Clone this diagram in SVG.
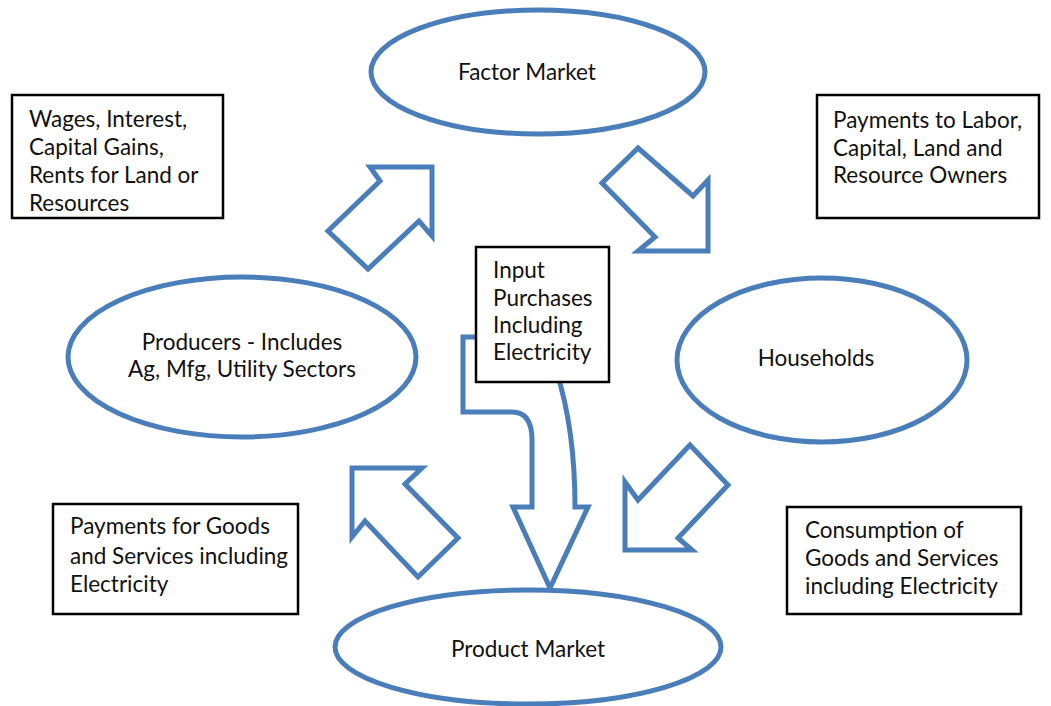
<svg xmlns="http://www.w3.org/2000/svg" width="1051" height="706" viewBox="0 0 1051 706">
  <style>
    .ell { fill: #ffffff; stroke: #4A7EBB; stroke-width: 5; }
    .arr { fill: #ffffff; stroke: #4A7EBB; stroke-width: 5; stroke-linejoin: miter; }
    .box { fill: #ffffff; stroke: #000000; stroke-width: 2.5; }
    .t { font-family: Lato, "Open Sans", sans-serif; font-size: 22.5px; fill: #111111; }
    .c { text-anchor: middle; }
  </style>
  <rect width="1051" height="706" fill="#ffffff"/>

  <g id="connectors">
    <polygon class="arr" points="370,167 432,167 432,236 419,221 368,269 328,231 380,181"/>
    <polygon class="arr" points="638,148 602,183 655,237 638,251 708,251 708,180 693,196"/>
    <polygon class="arr" points="352,468 422,468 405,484 458,538 418,577 365,521 352,537"/>
    <polygon class="arr" points="690,445 728,485 678,538 692,550 625,550 625,482 638,500"/>
    <path class="arr" d="M 490,337 L 463,337 L 463,412 L 512,412 Q 532,412 532,440 L 532,507 L 513,507 L 550,588 L 588,507 L 575,507 C 575,460 569,410 556,370 L 540,340 Z"/>
  </g>

  <g id="factor-market">
    <ellipse class="ell" cx="538" cy="72" rx="167" ry="62"/>
    <text class="t c" x="527" y="80">Factor Market</text>
  </g>

  <g id="producers">
    <ellipse class="ell" cx="242" cy="357" rx="174" ry="80"/>
    <text class="t c" x="242" y="350">Producers - Includes</text>
    <text class="t c" x="242" y="377">Ag, Mfg, Utility Sectors</text>
  </g>

  <g id="households">
    <ellipse class="ell" cx="822" cy="360" rx="145" ry="82"/>
    <text class="t c" x="816" y="366">Households</text>
  </g>

  <g id="product-market">
    <ellipse class="ell" cx="528" cy="647" rx="193" ry="57"/>
    <text class="t c" x="528" y="657">Product Market</text>
  </g>

  <g id="box-wages">
    <rect class="box" x="12" y="95" width="211" height="123"/>
    <text class="t" x="29" y="127">Wages, Interest,</text>
    <text class="t" x="29" y="155">Capital Gains,</text>
    <text class="t" x="29" y="183">Rents for Land or</text>
    <text class="t" x="29" y="211">Resources</text>
  </g>

  <g id="box-payments-labor">
    <rect class="box" x="817" y="95" width="222" height="123"/>
    <text class="t" x="833" y="128">Payments to Labor,</text>
    <text class="t" x="833" y="156">Capital, Land and</text>
    <text class="t" x="833" y="183">Resource Owners</text>
  </g>

  <g id="box-input">
    <rect class="box" x="476" y="247" width="133" height="135"/>
    <text class="t" x="493" y="278">Input</text>
    <text class="t" x="493" y="306">Purchases</text>
    <text class="t" x="493" y="333">Including</text>
    <text class="t" x="493" y="360">Electricity</text>
  </g>

  <g id="box-payments-goods">
    <rect class="box" x="53" y="504" width="245" height="110"/>
    <text class="t" x="70" y="534">Payments for Goods</text>
    <text class="t" x="70" y="564">and Services including</text>
    <text class="t" x="70" y="592">Electricity</text>
  </g>

  <g id="box-consumption">
    <rect class="box" x="787" y="507" width="234" height="107"/>
    <text class="t" x="805" y="538">Consumption of</text>
    <text class="t" x="805" y="566">Goods and Services</text>
    <text class="t" x="805" y="594">including Electricity</text>
  </g>
</svg>
